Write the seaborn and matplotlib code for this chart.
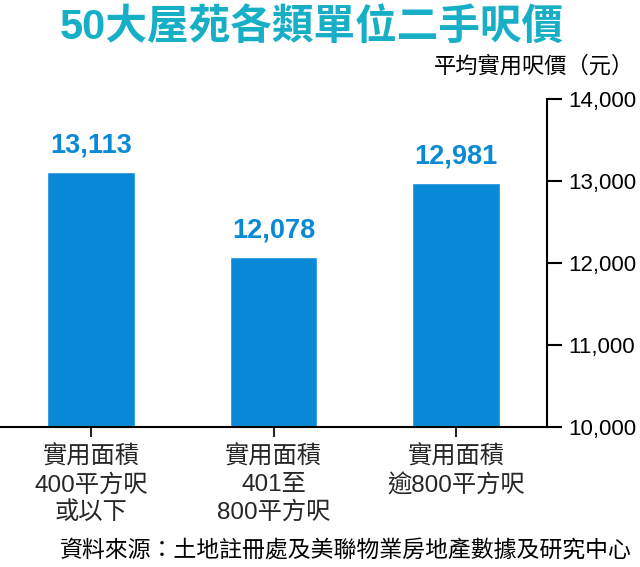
import matplotlib
matplotlib.use("Agg")
import matplotlib.pyplot as plt
import seaborn as sns
import pandas as pd
from matplotlib.ticker import FuncFormatter

categories = ["實用面積\n400平方呎\n或以下", "實用面積\n401至\n800平方呎", "實用面積\n逾800平方呎"]
values = [13113, 12078, 12981]
value_labels = ["13,113", "12,078", "12,981"]
y_ticks = [10000, 11000, 12000, 13000, 14000]

sns.set_style("white")
FAM = ["Liberation Sans", "Noto Sans CJK TC", "DejaVu Sans"]
plt.rcParams["font.family"] = FAM

BAR = "#0a8ad6"
TITLE = "#17afc6"

df = pd.DataFrame({"cat": categories, "val": values})

fig = plt.figure(figsize=(6.4, 5.67), dpi=100)
ax = fig.add_axes([0.0, 1 - 427 / 567, 547 / 640, (427 - 99) / 567])

sns.barplot(data=df, x="cat", y="val", color=BAR, saturation=1, width=0.48, ax=ax)

ax.set_ylim(10000, 14000)
ax.set_xlim(-0.5, 2.5)
ax.yaxis.tick_right()
ax.set_yticks(y_ticks)
ax.yaxis.set_major_formatter(FuncFormatter(lambda v, p: f"{int(v):,}"))
ax.tick_params(axis="y", which="major", direction="out", length=11, width=1.5,
               labelsize=16, pad=4, colors="black", left=False, right=True)
ax.tick_params(axis="x", direction="out", length=7, width=1.5, labelsize=17.5, pad=6,
               bottom=True)
for lbl in ax.get_xticklabels():
    lbl.set_linespacing(1.3)

for s in ["top", "left"]:
    ax.spines[s].set_visible(False)
for s in ["right", "bottom"]:
    ax.spines[s].set_visible(True)
    ax.spines[s].set_linewidth(1.5)
    ax.spines[s].set_color("black")
ax.set_xlabel("")
ax.set_ylabel("")
ax.grid(False)

for i, (v, t) in enumerate(zip(values, value_labels)):
    ax.annotate(t, xy=(i, v), xytext=(0, 14), textcoords="offset points",
                ha="center", va="baseline", fontsize=19.5, fontweight="bold",
                color=BAR, family=FAM)

fig.text(312 / 640, 1 - 28 / 567, "50大屋苑各類單位二手呎價", ha="center", va="center",
         fontsize=30, fontweight="bold", color=TITLE, family=FAM)
fig.text(634 / 640, 1 - 67 / 567, "平均實用呎價（元）", ha="right", va="center",
         fontsize=16, color="black", family=FAM)
fig.text(632 / 640, 1 - 551 / 567, "資料來源：土地註冊處及美聯物業房地產數據及研究中心",
         ha="right", va="center", fontsize=16.5, color="black", family=FAM)

fig.savefig("out.png", dpi=100)
